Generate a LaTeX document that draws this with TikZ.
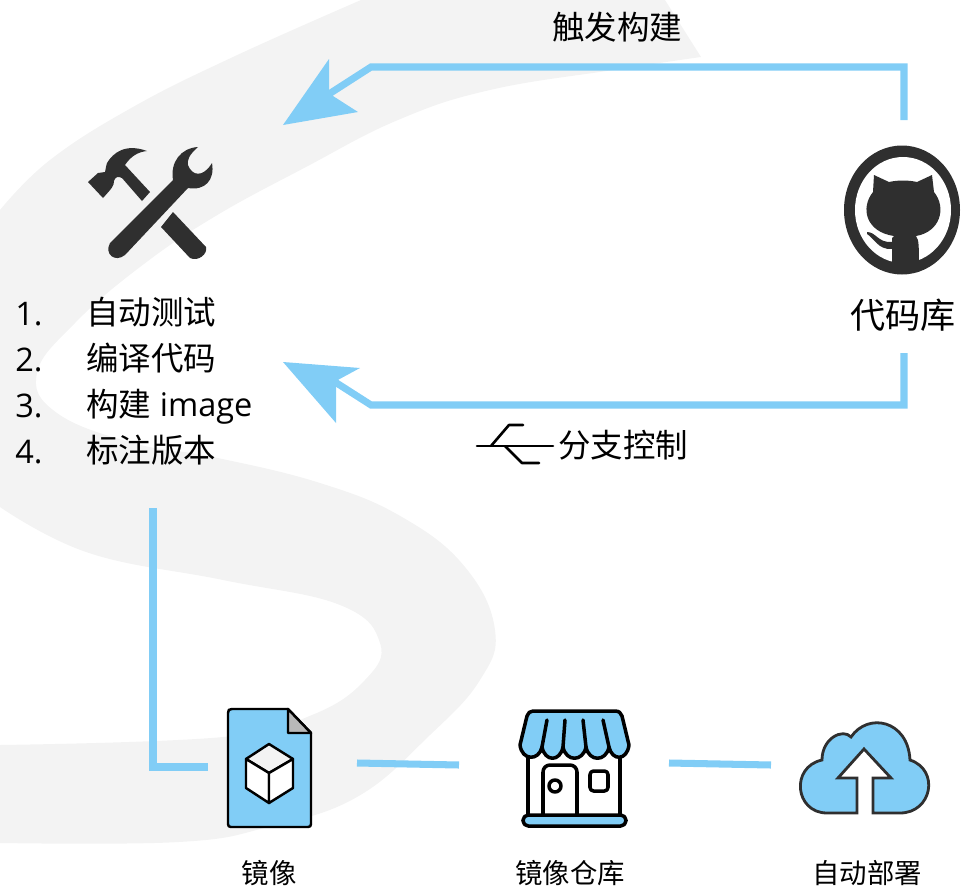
\documentclass[tikz,border=0pt]{standalone}
\usepackage{fontspec}
\usepackage{xcolor}
\setmainfont{Noto Sans CJK SC}
\newfontfamily\latinfont{Open Sans}
\definecolor{skyblue}{HTML}{81CDF6}
\definecolor{iconblack}{HTML}{2F2F2F}
\definecolor{sgrey}{HTML}{F3F3F3}
\tikzset{
	link/.style={draw=skyblue,line width=4pt,line join=miter},
	headtip/.style={fill=skyblue},
	listlabel/.style={inner sep=0pt,anchor=base west,font=\fontsize{18.5}{18.5}\selectfont},
	listnumber/.style={inner sep=0pt,anchor=base west,font=\fontsize{18.5}{18.5}\selectfont\latinfont},
	smalllabel/.style={inner sep=0pt,font=\fontsize{15.6}{16}\selectfont},
	outline/.style={draw=black,line width=1.4pt,line join=round,line cap=round},
	storeline/.style={draw=black,line width=2pt,line join=round,line cap=round},
	branchline/.style={draw=black,line width=1.5pt,line cap=round,line join=round},
}
\begin{document}
\begin{tikzpicture}[x=0.02cm,y=-0.02cm]
\useasboundingbox (0,0) rectangle (961,886);
% watermark
\fill [sgrey] (0,210) -- plot [smooth,tension=0.7] coordinates {(0,210) (50,160) (133,107) (233,57) (361,0)}
	-- (665,0) -- (701,57)
	-- plot [smooth,tension=0.7] coordinates {(701,57) (613,70) (490,90) (398,120) (306,167) (214,217) (140,267) (75,323) (37,373) (57,413) (133,443) (213,457) (320,483) (402,517) (465,567) (495,630) (480,680) (430,735) (357,797) (268,827) (179,842) (0,843)}
	-- (0,745)
	-- plot [smooth,tension=0.7] coordinates {(0,745) (223,737) (312,715) (365,680) (380,643) (340,605) (223,580) (89,553) (0,507)}
	-- cycle;
% connector ends
\coordinate (repoTop) at (904,120);
\coordinate (repoTopCorner) at (904,67);
\coordinate (topBend) at (371,67);
\coordinate (topHead) at (329,94);
\coordinate (repoBot) at (904,353);
\coordinate (repoBotCorner) at (904,405);
\coordinate (botBend) at (371,405);
\coordinate (botHead) at (335,382);
\coordinate (toolsBot) at (153,508);
\coordinate (toolsCorner) at (153,767);
\coordinate (imageIn) at (208,767);
\coordinate (imageOut) at (357,763);
\coordinate (storeIn) at (459,765);
\coordinate (storeOut) at (669,763);
\coordinate (cloudIn) at (771,765);
\draw [link] (repoTop) -- (repoTopCorner) -- (topBend) -- (topHead);
\fill [headtip] (283,125) -- (329,59) -- (329,92) -- (333,96) -- (358,112) -- cycle;
\draw [link] (repoBot) -- (repoBotCorner) -- (botBend) -- (botHead);
\fill [headtip] (283,362) -- (360,368) -- (336,381) -- (336,423) -- cycle;
\draw [link] (toolsBot) -- (toolsCorner) -- (imageIn);
\draw [link] (imageOut) -- (storeIn);
\draw [link] (storeOut) -- (cloudIn);
% tools
\fill [iconblack] (88,182) -- (98,173) -- (105,172) .. controls (106,168) and (106,165) .. (107,163)
	.. controls (113,153) and (125,143) .. (147,151) .. controls (138,152) and (131,156) .. (125,165)
	-- (150,192) -- (142,201) -- (122,178) .. controls (118,176) and (115,177) .. (114,181)
	.. controls (114,186) and (112,188) .. (103,198) -- cycle;
\fill [iconblack] (173,212) -- (206,247) .. controls (208,254) and (198,262) .. (190,258)
	-- (161,227) -- cycle;
\fill [iconblack] (110,243) -- (173,180) .. controls (170,162) and (181,148) .. (198,147)
	.. controls (189,155) and (187,160) .. (188,165) .. controls (192,176) and (203,178) .. (212,163)
	.. controls (215,180) and (205,191) .. (188,188) -- (125,255)
	.. controls (115,263) and (104,254) .. (110,243) -- cycle;
% list
\node [listnumber] (step1) at (15,325) {1.};
\node [listnumber] (step2) at (15,371) {2.};
\node [listnumber] (step3) at (15,417) {3.};
\node [listnumber] (step4) at (15,463) {4.};
\node [listlabel] (test) at (86,324) {自动测试};
\node [listlabel] (compile) at (86,370) {编译代码};
\node [listlabel] (build) at (86,416) {构建{\latinfont\ image}};
\node [listlabel] (tag) at (86,462) {标注版本};
\node [listlabel] (trigger) at (552,39) {触发构建};
\node [listlabel] (branch) at (558,457) {分支控制};
\node [inner sep=0pt,font=\fontsize{20}{20}\selectfont] (repo) at (903,315) {代码库};
\node [smalllabel] (image) at (269,873) {镜像};
\node [smalllabel] (store) at (570,873) {镜像仓库};
\node [smalllabel] (deploy) at (867,873) {自动部署};
% branch sign
\draw [branchline] (477,446) -- (553,446);
\draw [branchline] (491,446) -- (509,425) -- (523,425);
\draw [branchline] (505,446) -- (522,463) -- (539,463);
% github
\fill [iconblack] (902,210) ellipse (58 and 64.5);
\fill [white] (903,210) ellipse (48 and 53);
\begin{scope}
\clip (902,210) ellipse (58 and 64.5);
\fill [iconblack] (874,175) -- (889,182) .. controls (898,180) and (908,180) .. (917,182)
	-- (932,175) -- (934,192) .. controls (947,208) and (940,232) .. (916,236)
	.. controls (919,240) and (919,245) .. (919,272) -- (892,272) -- (892,249)
	.. controls (878,250) and (874,238) .. (867,234) -- (867,232)
	.. controls (876,232) and (878,243) .. (892,242)
	.. controls (892,238) and (892,237) .. (894,236)
	.. controls (866,232) and (860,208) .. (873,192) -- cycle;
\end{scope}
% image file
\draw [outline,fill=skyblue] (228,713) -- (228,824) .. controls (228,826) and (229,827) .. (231,827)
	-- (308,827) .. controls (310,827) and (311,826) .. (311,824) -- (311,733) -- (288,709)
	-- (232,709) .. controls (229,709) and (228,710) .. (228,713) -- cycle;
\draw [outline,fill=black!28] (288,709) -- (288,733) -- (311,733) -- cycle;
\draw [outline,fill=sgrey] (246,759) -- (269,744) -- (293,759) -- (269,773) -- cycle;
\draw [outline,fill=white] (246,759) -- (269,773) -- (269,803) -- (246,788) -- cycle;
\draw [outline,fill=white] (293,759) -- (269,773) -- (269,803) -- (293,788) -- cycle;
% store
\draw [storeline,fill=white] (528,745) rectangle (620,816);
\draw [storeline,rounded corners=4pt] (543,816) -- (543,765) -- (577,765) -- (577,816);
\draw [storeline] (555,786) circle (6);
\draw [storeline,rounded corners=2pt] (590,771) rectangle (608,791);
\draw [storeline,fill=skyblue,rounded corners=3pt] (523,815) rectangle (626,826);
\draw [storeline,fill=skyblue] (533,711) -- (615,711)
	.. controls (619,711) and (621,713) .. (622,716) -- (629,745)
	.. controls (627,761) and (612,761) .. (609,747)
	.. controls (606,762) and (589,762) .. (586,747)
	.. controls (583,762) and (566,762) .. (563,747)
	.. controls (560,762) and (545,762) .. (542,747)
	.. controls (539,761) and (522,761) .. (520,745) -- (527,716)
	.. controls (528,713) and (530,711) .. (533,711) -- cycle;
\foreach \xa/\xb in {547/542,565/563,583/586,603/609}
	{
	\draw [storeline] (\xa,720) -- (\xb,747);
	}
% cloud
\draw [iconblack,line width=1.6pt,fill=skyblue,line join=miter] (857,813) -- (827,813)
	.. controls (795,813) and (790,767) .. (822,760)
	.. controls (822,738) and (843,728) .. (851,737)
	.. controls (868,712) and (908,720) .. (910,760)
	.. controls (940,770) and (932,813) .. (900,813) -- (873,813)
	-- (873,778) -- (891,778) -- (864,749) -- (838,778) -- (857,778) -- cycle;
\end{tikzpicture}
\end{document}
